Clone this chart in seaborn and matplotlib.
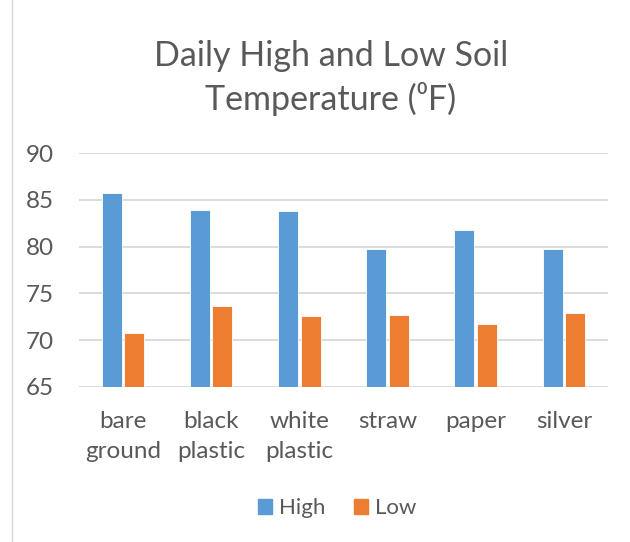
import pandas as pd
import matplotlib.pyplot as plt
import seaborn as sns
from matplotlib.lines import Line2D

# Valeurs
mulches = ['bare\nground', 'black\nplastic', 'white\nplastic', 'straw', 'paper', 'silver']
high_temp = [85.7, 83.9, 83.8, 79.7, 81.8, 79.7]
low_temp = [70.8, 73.6, 72.6, 72.7, 71.7, 72.9]
series = ['High', 'Low']
colors = ['#5B9BD5', '#ED7D31']

df = pd.DataFrame({'mulch': mulches * 2,
                   'serie': ['High'] * len(mulches) + ['Low'] * len(mulches),
                   'temp': high_temp + low_temp})

sns.set_style('white')
plt.rcParams['font.family'] = ['Lato', 'DejaVu Sans']
text_col = '#595959'

fig = plt.figure(figsize=(6.3, 5.42), dpi=100)
ax = fig.add_axes([0.1254, 0.286, 0.8396, 0.4317])

sns.barplot(data=df, x='mulch', y='temp', hue='serie', hue_order=series,
            palette=colors, saturation=1, width=0.51, gap=0.11, ax=ax,
            edgecolor='white', linewidth=0.6, legend=False)

ax.set_ylim(65, 90)
ax.set_yticks(range(65, 91, 5))
ax.yaxis.grid(True, color='#D9D9D9', linewidth=1.3)
ax.set_axisbelow(True)
for s in ax.spines.values():
    s.set_visible(False)
ax.set_xlabel('')
ax.set_ylabel('')
ax.tick_params(axis='y', length=0, pad=18, labelsize=17.5, labelcolor=text_col)
ax.tick_params(axis='x', length=0, pad=17, labelsize=17.5, labelcolor=text_col)
for lab in ax.get_xticklabels():
    lab.set_linespacing(1.55)

fig.text(0.525, 1 - 78 / 542, 'Daily High and Low Soil\nTemperature (⁰F)',
         ha='center', va='center', fontsize=24.5, color=text_col, linespacing=1.35)

handles = [plt.Rectangle((0, 0), 1, 1, color=c) for c in colors]
fig.legend(handles, series, loc='center', bbox_to_anchor=(0.535, 1 - 508 / 542),
           ncol=2, frameon=False, fontsize=16, labelcolor=text_col,
           handlelength=0.65, handleheight=0.65, handletextpad=0.3, columnspacing=1.3)

# bordure gauche du cadre
fig.add_artist(Line2D([12 / 630, 12 / 630], [0, 1], transform=fig.transFigure,
                      color='#D9D9D9', linewidth=1))

fig.savefig('out.png', dpi=100)
